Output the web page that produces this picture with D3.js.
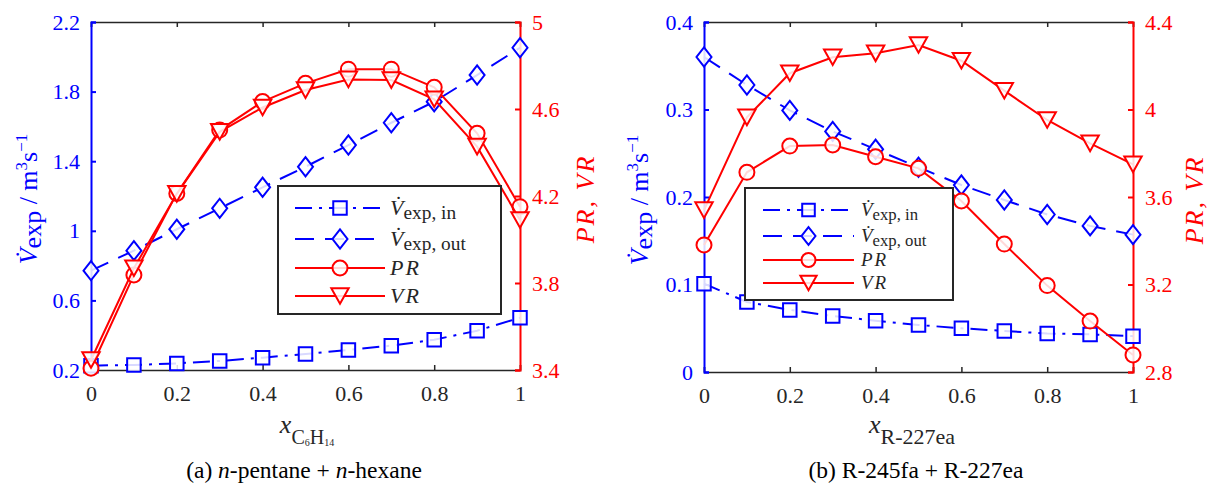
<!DOCTYPE html>
<html>
<head>
<meta charset="utf-8">
<script src="https://cdn.jsdelivr.net/npm/d3@7"></script>
<style>
body { margin: 0; background: #fff; }
svg { display: block; }
</style>
</head>
<body>
<div id="chart"></div>
<script>
var xValues = [0, 0.1, 0.2, 0.3, 0.4, 0.5, 0.6, 0.7, 0.8, 0.9, 1];
var xTicks = [0, 0.2, 0.4, 0.6, 0.8, 1];

// (a) n-pentane + n-hexane
var vinA  = [0.225, 0.229, 0.238, 0.252, 0.271, 0.292, 0.315, 0.340, 0.374, 0.426, 0.500];
var voutA = [0.771, 0.886, 1.009, 1.129, 1.250, 1.368, 1.493, 1.621, 1.742, 1.895, 2.052];
var prA   = [3.408, 3.837, 4.212, 4.503, 4.634, 4.718, 4.783, 4.783, 4.700, 4.488, 4.151];
var vrA   = [3.446, 3.868, 4.210, 4.495, 4.607, 4.687, 4.736, 4.733, 4.645, 4.427, 4.090];
var leftTicksA  = [0.2, 0.6, 1, 1.4, 1.8, 2.2];
var rightTicksA = [3.4, 3.8, 4.2, 4.6, 5];

// (b) R-245fa + R-227ea
var vinB  = [0.101, 0.080, 0.071, 0.064, 0.0587, 0.0537, 0.050, 0.0469, 0.044, 0.043, 0.041];
var voutB = [0.360, 0.328, 0.299, 0.275, 0.2545, 0.234, 0.2137, 0.1966, 0.180, 0.167, 0.157];
var prB   = [3.381, 3.713, 3.833, 3.838, 3.784, 3.731, 3.582, 3.385, 3.195, 3.033, 2.878];
var vrB   = [3.540, 3.964, 4.166, 4.239, 4.257, 4.295, 4.223, 4.086, 3.952, 3.845, 3.749];
var leftTicksB  = [0, 0.1, 0.2, 0.3, 0.4];
var rightTicksB = [2.8, 3.2, 3.6, 4, 4.4];

var BLUE = "#0000ff";
var RED = "#ff0000";
var DARK = "#262626";
var SERIF = '"Liberation Serif", serif';

function markerPath(type, s) {
    // s = nominal marker size in px
    if (type === "square") {
        var h = s * 0.45;
        return "M" + (-h) + "," + (-h) + "H" + h + "V" + h + "H" + (-h) + "Z";
    }
    if (type === "diamond") {
        var w = s * 0.5, t = s * 0.64;
        return "M0," + (-t) + "L" + w + ",0L0," + t + "L" + (-w) + ",0Z";
    }
    if (type === "circle") {
        var r = s * 0.5;
        return "M" + r + ",0A" + r + "," + r + " 0 1,1 " + (-r) + ",0A" + r + "," + r + " 0 1,1 " + r + ",0Z";
    }
    // triangle pointing down
    var a = s * 0.58, b = s * 0.52;
    return "M" + (-a) + "," + (-b) + "L" + a + "," + (-b) + "L0," + b + "Z";
}

function drawPanel(svg, cfg) {
    var g = svg.append("g");

    var x = d3.scaleLinear().domain([0, 1]).range([cfg.left, cfg.right]);
    var yL = d3.scaleLinear().domain(d3.extent(cfg.leftTicks)).range([cfg.bottom, cfg.top]);
    var yR = d3.scaleLinear().domain(d3.extent(cfg.rightTicks)).range([cfg.bottom, cfg.top]);
    var fmt = d3.format("~g");

    // bottom + top axes
    var bx = g.append("g")
        .attr("transform", "translate(0," + cfg.bottom + ")")
        .call(d3.axisBottom(x).tickValues(xTicks).tickFormat(fmt).tickSize(-5).tickPadding(15));
    var tx = g.append("g")
        .attr("transform", "translate(0," + cfg.top + ")")
        .call(d3.axisTop(x).tickValues(xTicks).tickFormat("").tickSize(-5));
    [bx, tx].forEach(function(a) {
        a.selectAll("path, line").attr("stroke", DARK).attr("stroke-width", 1.5);
    });
    bx.selectAll("text").attr("fill", DARK);

    // left axis
    var ly = g.append("g")
        .attr("transform", "translate(" + cfg.left + ",0)")
        .call(d3.axisLeft(yL).tickValues(cfg.leftTicks).tickFormat(fmt).tickSize(-5).tickPadding(11));
    ly.selectAll("path, line").attr("stroke", BLUE).attr("stroke-width", 2);
    ly.selectAll("text").attr("fill", BLUE);

    // right axis
    var ry = g.append("g")
        .attr("transform", "translate(" + cfg.right + ",0)")
        .call(d3.axisRight(yR).tickValues(cfg.rightTicks).tickFormat(fmt).tickSize(-5).tickPadding(12));
    ry.selectAll("path, line").attr("stroke", RED).attr("stroke-width", 2);
    ry.selectAll("text").attr("fill", RED);

    g.selectAll(".tick text")
        .style("font-family", SERIF)
        .attr("font-size", 22);

    var series = [
        {vals: cfg.vin,  y: yL, color: BLUE, dash: "17,7,3,7", marker: "square"},
        {vals: cfg.vout, y: yL, color: BLUE, dash: "19,11",    marker: "diamond"},
        {vals: cfg.pr,   y: yR, color: RED,  dash: null,       marker: "circle"},
        {vals: cfg.vr,   y: yR, color: RED,  dash: null,       marker: "triangle"}
    ];

    series.forEach(function(s) {
        var line = d3.line()
            .x(function(d, i) { return x(xValues[i]); })
            .y(function(d) { return s.y(d); });
        g.append("path")
            .datum(s.vals)
            .attr("d", line)
            .attr("fill", "none")
            .attr("stroke", s.color)
            .attr("stroke-width", 2)
            .attr("stroke-dasharray", s.dash);
        g.selectAll(null)
            .data(s.vals)
            .enter()
            .append("path")
            .attr("transform", function(d, i) {
                return "translate(" + x(xValues[i]) + "," + s.y(d) + ")";
            })
            .attr("d", markerPath(s.marker, cfg.markerSize))
            .attr("fill", "#fff")
            .attr("fill-opacity", 0.85)
            .attr("stroke", s.color)
            .attr("stroke-width", 2);
    });

    // legend
    var L = cfg.legend;
    var lg = g.append("g");
    lg.append("rect")
        .attr("x", L.x).attr("y", L.y).attr("width", L.w).attr("height", L.h)
        .attr("fill", "#fff").attr("stroke", DARK).attr("stroke-width", 2);
    series.forEach(function(s, i) {
        var ry0 = L.rows[i];
        lg.append("line")
            .attr("x1", L.lx1).attr("x2", L.lx2).attr("y1", ry0).attr("y2", ry0)
            .attr("stroke", s.color).attr("stroke-width", 2)
            .attr("stroke-dasharray", s.dash);
        lg.append("path")
            .attr("transform", "translate(" + ((L.lx1 + L.lx2) / 2) + "," + ry0 + ")")
            .attr("d", markerPath(s.marker, L.markerSize))
            .attr("fill", "#fff").attr("fill-opacity", 0.85)
            .attr("stroke", s.color).attr("stroke-width", 2);
        var t = lg.append("text")
            .attr("x", L.tx).attr("y", ry0 + L.fs * 0.3)
            .style("font-family", SERIF).attr("font-size", L.fs).attr("fill", DARK);
        if (i < 2) {
            t.append("tspan").attr("font-style", "italic").text("V\u0307");
            t.append("tspan").attr("font-size", L.fs * 0.88).attr("dy", L.fs * 0.22)
                .text(i === 0 ? "exp, in" : "exp, out");
        } else {
            t.append("tspan").attr("font-style", "italic").attr("letter-spacing", 2)
                .text(i === 2 ? "PR" : "VR");
        }
    });

    // left y title
    var cy = (cfg.top + cfg.bottom) / 2 + 3;
    var lt = g.append("text")
        .attr("transform", "translate(" + cfg.ltx + "," + cy + ") rotate(-90)")
        .attr("text-anchor", "middle")
        .style("font-family", SERIF).attr("font-size", 26).attr("fill", BLUE);
    lt.append("tspan").attr("font-style", "italic").text("V\u0307");
    lt.append("tspan").attr("dy", 4).text("exp");
    lt.append("tspan").attr("dy", -4).text(" / m");
    lt.append("tspan").attr("font-size", 17).attr("dy", -10).text("3");
    lt.append("tspan").attr("dy", 10).text("s");
    lt.append("tspan").attr("font-size", 17).attr("dy", -10).text("\u22121");

    // right y title
    g.append("text")
        .attr("transform", "translate(" + cfg.rtx + "," + cy + ") rotate(-90)")
        .attr("text-anchor", "middle")
        .style("font-family", SERIF).attr("font-size", 26).attr("font-style", "italic")
        .attr("letter-spacing", 2)
        .attr("fill", RED)
        .text("PR, VR");

    // x title
    var xt = g.append("text")
        .attr("x", cfg.xtx).attr("y", 433)
        .attr("text-anchor", "middle")
        .style("font-family", SERIF).attr("font-size", 26).attr("fill", DARK);
    xt.append("tspan").attr("font-style", "italic").text("x");
    cfg.xsub.forEach(function(p, i) {
        xt.append("tspan")
            .attr("font-size", p.fs)
            .attr("dy", i === 0 ? 11 : (p.dy || 0))
            .text(p.t);
    });

    // caption
    var cp = g.append("text")
        .attr("x", cfg.capx).attr("y", 478)
        .attr("text-anchor", "middle")
        .style("font-family", SERIF).attr("font-size", 23.5).attr("fill", "#000");
    cfg.caption.forEach(function(p) {
        cp.append("tspan").attr("font-style", p.i ? "italic" : "normal").text(p.t);
    });
}

function init() {
    var svg = d3.select("#chart")
        .append("svg")
        .attr("width", 1210)
        .attr("height", 489);

    drawPanel(svg, {
        left: 91, right: 520, top: 22, bottom: 370,
        leftTicks: leftTicksA, rightTicks: rightTicksA,
        vin: vinA, vout: voutA, pr: prA, vr: vrA,
        markerSize: 15,
        legend: {x: 278, y: 186, w: 223, h: 128, rows: [208, 239, 268, 296],
                 lx1: 295, lx2: 385, tx: 390, fs: 22, markerSize: 15},
        ltx: 37, rtx: 594, xtx: 307, capx: 304,
        xsub: [{t: "C", fs: 20}, {t: "6", fs: 10, dy: 2}, {t: "H", fs: 20, dy: -2}, {t: "14", fs: 10, dy: 2}],
        caption: [{t: "(a) "}, {t: "n", i: true}, {t: "-pentane + "}, {t: "n", i: true}, {t: "-hexane"}]
    });

    drawPanel(svg, {
        left: 704, right: 1133, top: 22, bottom: 372,
        leftTicks: leftTicksB, rightTicks: rightTicksB,
        vin: vinB, vout: voutB, pr: prB, vr: vrB,
        markerSize: 15,
        legend: {x: 745, y: 188, w: 208, h: 112, rows: [210, 236, 260, 283],
                 lx1: 763, lx2: 854, tx: 861, fs: 19, markerSize: 14},
        ltx: 648, rtx: 1203, xtx: 912, capx: 916,
        xsub: [{t: "R-227ea", fs: 22}],
        caption: [{t: "(b) R-245fa + R-227ea"}]
    });
}

window.onload = init;
</script>
</body>
</html>
